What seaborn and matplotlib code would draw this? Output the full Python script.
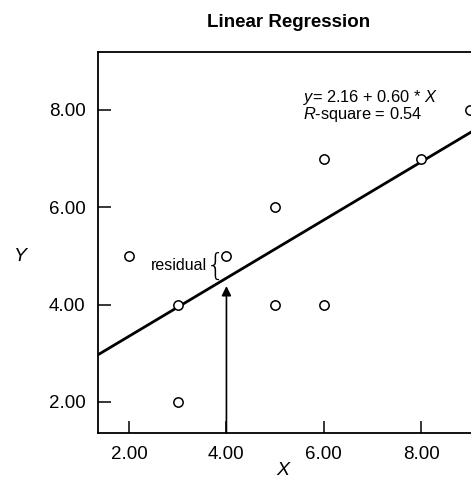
import matplotlib
matplotlib.use("Agg")
import matplotlib.pyplot as plt
import seaborn as sns
import pandas as pd

x_vals = [2, 3, 3, 4, 5, 5, 6, 6, 8, 9]
y_vals = [5, 4, 2, 5, 6, 4, 7, 4, 7, 8]
tick_vals = [2, 4, 6, 8]
tick_labels = ["2.00", "4.00", "6.00", "8.00"]

df = pd.DataFrame({"X": x_vals, "Y": y_vals})

sns.set_theme(style="white")
plt.rcParams["font.family"] = ["Liberation Sans", "DejaVu Sans"]
plt.rcParams["mathtext.fontset"] = "custom"
plt.rcParams["mathtext.rm"] = "Liberation Sans"
plt.rcParams["mathtext.it"] = "Liberation Sans:italic"

fig = plt.figure(figsize=(4.71, 4.93), dpi=100)
ax = fig.add_axes([0.208, 0.1217, 0.81, 0.7728])
ax.set_xlim(1.36, 9.2)
ax.set_ylim(1.36, 9.19)

sns.regplot(data=df, x="X", y="Y", ax=ax, scatter=False, ci=None,
            truncate=False, color="black", line_kws={"lw": 2.0})
sns.scatterplot(data=df, x="X", y="Y", ax=ax, s=45, facecolor="white",
                edgecolor="black", linewidth=1.1, zorder=3)
ax.set_xlim(1.36, 9.2)
ax.set_ylim(1.36, 9.19)

ax.set_xticks(tick_vals)
ax.set_xticklabels(tick_labels)
ax.set_yticks(tick_vals)
ax.set_yticklabels(tick_labels)
ax.tick_params(direction="in", length=9, width=1.1, color="black",
               labelsize=13.5, labelcolor="black", pad=9,
               bottom=True, left=True)
for s in ax.spines.values():
    s.set_color("black")
    s.set_linewidth(1.3)

ax.set_xlabel("X", fontsize=14, fontstyle="italic", color="black")
ax.xaxis.set_label_coords((283 - 98) / 382, -0.075)
ax.set_ylabel("Y", fontsize=14, fontstyle="italic", color="black",
              rotation=0, va="center", ha="center")
ax.yaxis.set_label_coords(-(98 - 20) / 382, 0.462)
ax.set_title("Linear Regression", fontsize=13.5, fontweight="bold",
             color="black", pad=18)

# arrow to the line at X = 4
ax.annotate("", xy=(4, 4.38), xytext=(4, 1.36),
            arrowprops=dict(arrowstyle="-|>", color="black", lw=1.2,
                            mutation_scale=14, shrinkA=0, shrinkB=0))
# residual brace
ax.text(3.78, 4.78, "{", fontsize=22, ha="center", va="center",
        color="black", family="DejaVu Sans", fontweight="light")
ax.text(3.6, 4.8, "residual", fontsize=11.5, ha="right", va="center",
        color="black")

ax.text(5.57, 8.08,
        "$\\mathit{y}$= 2.16 + 0.60 * $\\mathit{X}$\n$\\mathit{R}$-square = 0.54",
        fontsize=11.8, linespacing=0.9, ha="left", va="center",
        color="black")

fig.savefig("out.png", dpi=100)
